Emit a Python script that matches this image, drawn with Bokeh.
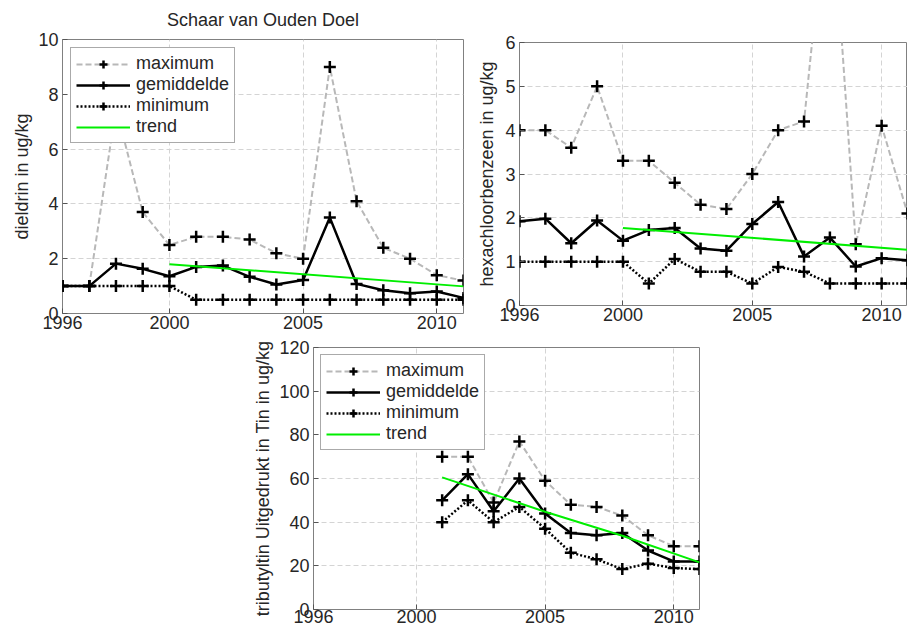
from bokeh.plotting import figure
from bokeh.layouts import column, row
from bokeh.models import Range1d, FixedTicker, Legend, LegendItem, Spacer
from bokeh.embed import file_html
from bokeh.resources import INLINE

# ---------------- data ----------------
years = [1996, 1997, 1998, 1999, 2000, 2001, 2002, 2003, 2004, 2005, 2006, 2007, 2008, 2009, 2010, 2011]
x_ticks = [1996, 2000, 2005, 2010]
title_text = "Schaar van Ouden Doel"

dieldrin_max = [1.0, 1.0, 7.5, 3.7, 2.5, 2.8, 2.8, 2.7, 2.2, 2.0, 9.0, 4.1, 2.4, 2.0, 1.4, 1.2]
dieldrin_mean = [1.0, 1.0, 1.82, 1.63, 1.36, 1.7, 1.75, 1.34, 1.06, 1.22, 3.5, 1.08, 0.85, 0.74, 0.8, 0.57]
dieldrin_min = [1.0, 1.0, 1.0, 1.0, 1.0, 0.5, 0.5, 0.5, 0.5, 0.5, 0.5, 0.5, 0.5, 0.5, 0.5, 0.5]
dieldrin_trend_years = [2000, 2011]
dieldrin_trend = [1.8, 0.99]
dieldrin_yticks = [0, 2, 4, 6, 8, 10]

hcb_max = [4.0, 4.0, 3.6, 5.0, 3.3, 3.3, 2.8, 2.3, 2.2, 3.0, 4.0, 4.2, 10.0, 1.4, 4.1, 2.1]
hcb_mean = [1.92, 1.98, 1.42, 1.94, 1.48, 1.72, 1.77, 1.3, 1.25, 1.86, 2.36, 1.12, 1.55, 0.89, 1.08, 1.03]
hcb_min = [1.0, 1.0, 1.0, 1.0, 1.0, 0.5, 1.06, 0.77, 0.77, 0.5, 0.88, 0.77, 0.5, 0.5, 0.5, 0.5]
hcb_trend_years = [2000, 2011]
hcb_trend = [1.77, 1.27]
hcb_yticks = [0, 1, 2, 3, 4, 5, 6]

tbt_years = [2001, 2002, 2003, 2004, 2005, 2006, 2007, 2008, 2009, 2010, 2011]
tbt_max = [70, 70, 49, 77, 59, 48, 47, 43, 34, 29, 29]
tbt_mean = [50, 62, 45, 60, 44, 35, 34, 35, 27, 22, 22]
tbt_min = [40, 50, 40, 47, 37, 26, 23, 18.5, 21, 19, 18.5]
tbt_trend_years = [2001, 2005, 2008, 2011]
tbt_trend = [60.5, 44.8, 33.8, 21.6]
tbt_yticks = [0, 20, 40, 60, 80, 100, 120]

FONT = "Liberation Sans"
TXT = "#262626"
X0, X1 = 1996, 2011


def make_fig(fw, fh, bl, br, bt, bb, ymax, yticks, ylabel, lab_standoff):
    p = figure(frame_width=fw, frame_height=fh,
               min_border_left=bl, min_border_right=br,
               min_border_top=bt, min_border_bottom=bb,
               x_range=Range1d(X0, X1), y_range=Range1d(0, ymax),
               output_backend="svg", toolbar_location=None)
    p.background_fill_color = "white"
    p.border_fill_color = "white"
    p.outline_line_color = "#808080"
    p.outline_line_width = 1
    p.xaxis.ticker = FixedTicker(ticks=x_ticks)
    p.yaxis.ticker = FixedTicker(ticks=yticks)
    p.xgrid.ticker = FixedTicker(ticks=x_ticks)
    p.ygrid.ticker = FixedTicker(ticks=yticks)
    p.grid.grid_line_color = "#d4d4d4"
    p.grid.grid_line_dash = "5 3"
    p.grid.grid_line_width = 1
    for ax in (p.xaxis, p.yaxis):
        ax.axis_line_color = None
        ax.major_tick_in = 5
        ax.major_tick_out = 0
        ax.major_tick_line_color = "#555555"
        ax.minor_tick_line_color = None
        ax.major_label_text_font = FONT
        ax.major_label_text_font_size = "18px"
        ax.major_label_text_color = TXT
    p.xaxis.major_label_standoff = 2
    p.yaxis.major_label_standoff = 4
    p.yaxis.axis_label = ylabel
    p.yaxis.axis_label_text_font = FONT
    p.yaxis.axis_label_text_font_size = "18px"
    p.yaxis.axis_label_text_font_style = "normal"
    p.yaxis.axis_label_text_color = TXT
    p.yaxis.axis_label_standoff = lab_standoff
    return p


def draw(p, x, ymax_, ymean, ymin, tx, ty):
    lmax = p.line(x, ymax_, line_color="#b8b8b8", line_width=2, line_dash="6 3")
    smax = p.scatter(x, ymax_, marker="cross", size=12, line_color="black", line_width=2.5)
    lmean = p.line(x, ymean, line_color="black", line_width=2.5)
    smean = p.scatter(x, ymean, marker="cross", size=12, line_color="black", line_width=2.5)
    lmin = p.line(x, ymin, line_color="black", line_width=2.5, line_dash="2 2")
    smin = p.scatter(x, ymin, marker="cross", size=12, line_color="black", line_width=2.5)
    ltr = p.line(tx, ty, line_color="#00ee00", line_width=2)
    return [("maximum", [lmax, smax]), ("gemiddelde", [lmean, smean]),
            ("minimum", [lmin, smin]), ("trend", [ltr])]


def add_legend(p, items, margin):
    leg = Legend(items=[LegendItem(label=l, renderers=r) for l, r in items],
                 location="top_left", margin=margin, padding=5, spacing=0,
                 glyph_width=54, glyph_height=20, label_height=20, label_standoff=6,
                 label_text_font=FONT, label_text_font_size="18px", label_text_color=TXT,
                 border_line_color="#555555", border_line_width=1,
                 background_fill_color="white", background_fill_alpha=1)
    p.add_layout(leg)


# top-left: dieldrin
p1 = make_fig(401, 274, 62, 9, 39, 26, 10, dieldrin_yticks, "dieldrin in ug/kg", 3)
p1.title.text = title_text
p1.title.align = "center"
p1.title.vertical_align = "top"
p1.title.standoff = 15
p1.title.text_font = FONT
p1.title.text_font_size = "18px"
p1.title.text_font_style = "normal"
p1.title.text_color = TXT
it1 = draw(p1, years, dieldrin_max, dieldrin_mean, dieldrin_min, dieldrin_trend_years, dieldrin_trend)
add_legend(p1, it1, 8)

# top-right: hexachloorbenzeen
p2 = make_fig(388, 263, 47, 0, 39, 34, 6, hcb_yticks, "hexachloorbenzeen in ug/kg", 5)
draw(p2, years, hcb_max, hcb_mean, hcb_min, hcb_trend_years, hcb_trend)

# bottom: tributyltin
p3 = make_fig(386, 262, 61, 10, 8, 24, 120, tbt_yticks, "tributyltin Uitgedrukt in Tin in ug/kg", 3)
p3.xaxis.major_label_standoff = 0
it3 = draw(p3, tbt_years, tbt_max, tbt_mean, tbt_min, tbt_trend_years, tbt_trend)
add_legend(p3, it3, 7)

layout = column(row(p1, column(Spacer(width=10, height=3), p2)),
                row(Spacer(width=250, height=10), p3))

open("out.html", "w").write(file_html(layout, INLINE))
